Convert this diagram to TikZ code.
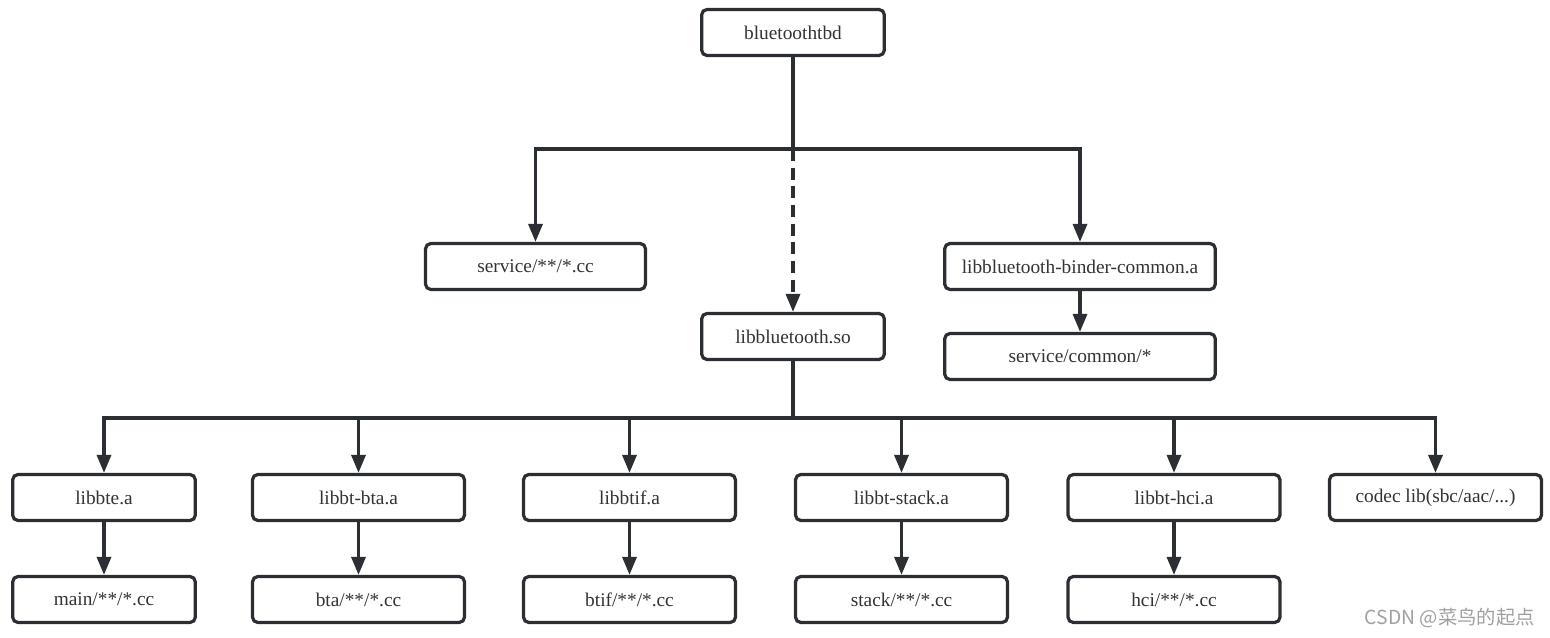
\documentclass[tikz,border=0pt]{standalone}
\usepackage{fontspec}
\setmainfont{Liberation Serif}
\newfontfamily\cjkwm{Noto Sans CJK SC}
\usetikzlibrary{arrows.meta}
\definecolor{ink}{HTML}{2B2F33}
\definecolor{txt}{HTML}{333333}
\definecolor{wm}{HTML}{A0A0A0}
\tikzset{
  box/.style={draw=ink, line width=2.4pt, rounded corners=4pt, fill=white,
    minimum height=34.5pt, inner sep=0pt, text=txt, font=\fontsize{14.5pt}{17pt}\selectfont},
  arr/.style={draw=ink, line width=2.5pt, -{Triangle[length=13.5pt,width=10.5pt]}},
}
\begin{document}
\begin{tikzpicture}[x=0.75pt,y=-0.75pt]
\useasboundingbox (0,0) rectangle (1550,638);
% top part
\node[box, minimum width=137pt] (bt) at (793,32.5) {bluetoothtbd};
\node[box, minimum width=165pt] (svc) at (535.5,266.5) {service/**/*.cc};
\node[box, minimum width=203pt] (bind) at (1080,266.5) {libbluetooth-binder-common.a};
\node[box, minimum width=203pt] (comm) at (1080,356.5) {service/common/*};
\node[box, minimum width=137pt] (so) at (793,336.5) {libbluetooth.so};
% row 1
\node[box, minimum width=137pt] (a1) at (104,497.5) {libbte.a};
\node[box, minimum width=159pt] (a2) at (358.5,497.5) {libbt-bta.a};
\node[box, minimum width=159pt] (a3) at (629.5,497.5) {libbtif.a};
\node[box, minimum width=159pt] (a4) at (901.5,497.5) {libbt-stack.a};
\node[box, minimum width=159pt] (a5) at (1174,497.5) {libbt-hci.a};
\node[box, minimum width=159pt] (a6) at (1435.5,497.5) {codec lib(sbc/aac/...)};
% row 2
\node[box, minimum width=137pt] (b1) at (104,599.5) {main/**/*.cc};
\node[box, minimum width=159pt] (b2) at (358.5,599.5) {bta/**/*.cc};
\node[box, minimum width=159pt] (b3) at (629.5,599.5) {btif/**/*.cc};
\node[box, minimum width=159pt] (b4) at (901.5,599.5) {stack/**/*.cc};
\node[box, minimum width=159pt] (b5) at (1174,599.5) {hci/**/*.cc};
% buses
\coordinate (bus1) at (793,149);
\coordinate (bus2) at (793,418);
\draw[arr] (bt.south) -- (bus1) -| (svc.north);
\draw[arr] (bt.south) -- (bus1) -| (bind.north);
\draw[arr, dashed, dash pattern=on 9pt off 5pt] (bus1) -- (so.north);
\draw[arr] (bind.south) -- (comm.north);
\foreach \i in {1,...,6} {
  \draw[arr] (so.south) -- (bus2) -| (a\i.north);
}
\foreach \i in {1,...,5} {
  \draw[arr] (a\i.south) -- (b\i.north);
}
% watermark
\node[text=wm, font=\cjkwm\fontsize{14.5pt}{16pt}\selectfont, anchor=east, inner sep=0pt] (wmk) at (1535,618) {CSDN @菜鸟的起点};
\end{tikzpicture}
\end{document}
